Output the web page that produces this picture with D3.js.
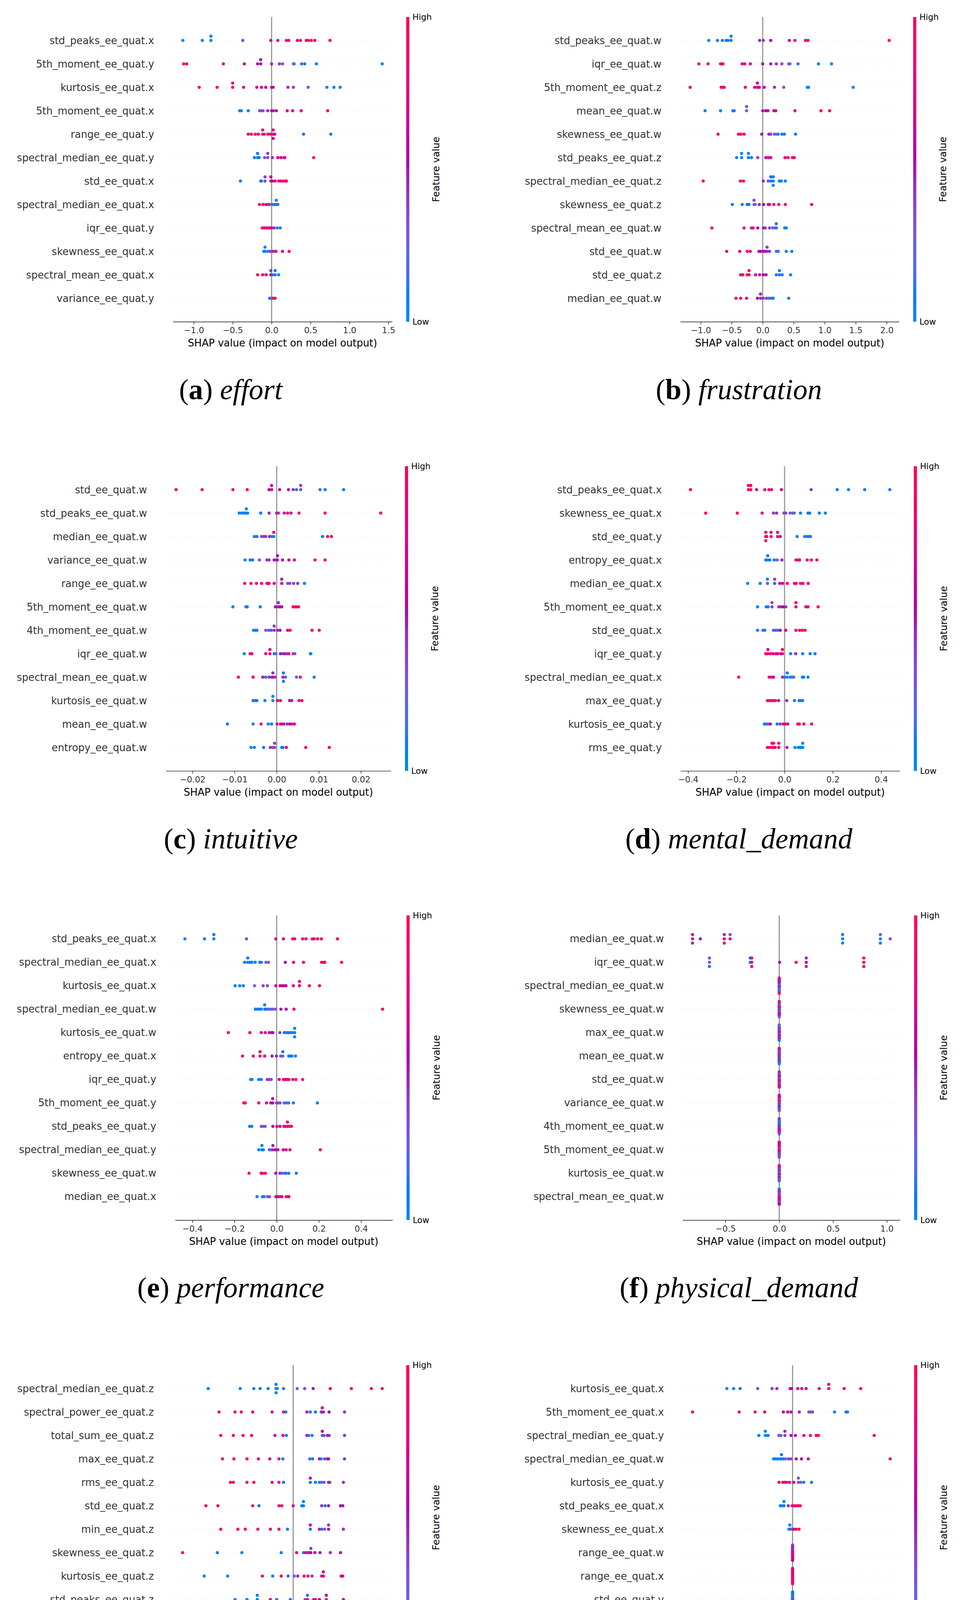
<!DOCTYPE html>
<html lang="en">
<head>
<meta charset="UTF-8">
<title>SHAP summary plots</title>
<script src="https://cdn.jsdelivr.net/npm/d3@7"></script>
<style>
  body { margin: 0; background: #fff; }
  svg { display: block; }
  .feat { font-family: "DejaVu Sans"; font-size: 25.7px; fill: #333; }
  .xlab { font-family: "DejaVu Sans"; font-size: 25.7px; fill: #000; }
  .cbtxt { font-family: "DejaVu Sans"; font-size: 21.5px; fill: #000; }
  .cblab { font-family: "DejaVu Sans"; font-size: 24.5px; fill: #000; }
  .axis path, .axis line { stroke: #333; stroke-width: 1.6; }
  .axis text { font-family: "DejaVu Sans"; font-size: 21.5px; fill: #333; }
  .caption { font-family: "Liberation Serif"; font-size: 74px; fill: #000; white-space: pre; }
</style>
</head>
<body>
<script>
// ---- data: [shap value, feature value (0 = low, 1 = high)] per dot ----
const effortFeatures = ["std_peaks_ee_quat.x","5th_moment_ee_quat.y","kurtosis_ee_quat.x","5th_moment_ee_quat.x","range_ee_quat.y","spectral_median_ee_quat.y","std_ee_quat.x","spectral_median_ee_quat.x","iqr_ee_quat.y","skewness_ee_quat.x","spectral_mean_ee_quat.x","variance_ee_quat.y"];
const effortShap = [
  [[-1.14,.02],[-0.89,.05],[-0.78,.05],[-0.78,.05],[-0.37,.35],[-0.01,.7],[0.08,.72],[0.19,.85],[0.22,.8],[0.33,.85],[0.37,.9],[0.445,.9],[0.47,.88],[0.51,.9],[0.555,.95],[0.75,.97]],
  [[-1.13,.97],[-1.09,.97],[-0.62,.85],[-0.35,.7],[-0.18,.6],[-0.14,.5],[-0.14,.55],[0.0,.45],[0.10,.4],[0.14,.35],[0.28,.3],[0.29,.25],[0.385,.12],[0.425,.1],[0.575,.05],[1.42,.02]],
  [[-0.93,.95],[-0.70,.92],[-0.50,.9],[-0.50,.9],[-0.36,.8],[-0.19,.72],[-0.13,.7],[-0.075,.65],[0.0,.55],[0.02,.6],[0.21,.45],[0.28,.4],[0.47,.25],[0.71,.05],[0.80,.05],[0.88,.03]],
  [[-0.41,.05],[-0.39,.05],[-0.30,.08],[-0.155,.3],[-0.13,.35],[-0.11,.3],[-0.05,.45],[0.0,.55],[0.02,.5],[0.06,.6],[0.20,.75],[0.27,.8],[0.38,.9],[0.72,.95]],
  [[-0.30,.95],[-0.26,.92],[-0.21,.95],[-0.17,.9],[-0.115,.85],[-0.115,.9],[-0.095,.8],[-0.05,.85],[-0.015,.8],[0.02,.7],[0.02,.72],[0.02,.65],[0.04,.75],[0.41,.1],[0.76,.05]],
  [[-0.22,.05],[-0.18,.05],[-0.18,.08],[-0.16,.1],[-0.09,.3],[-0.05,.35],[-0.05,.4],[0.01,.45],[0.08,.7],[0.12,.75],[0.16,.85],[0.17,.9],[0.54,.95]],
  [[-0.40,.05],[-0.14,.08],[-0.13,.1],[-0.085,.35],[-0.085,.4],[-0.01,.55],[-0.01,.6],[0.01,.65],[0.045,.75],[0.09,.85],[0.12,.9],[0.15,.9],[0.18,.95],[0.19,.95]],
  [[-0.155,.95],[-0.11,.9],[-0.07,.75],[-0.045,.5],[-0.025,.4],[0.01,.2],[0.035,.1],[0.06,.05],[0.06,.05],[0.08,.05]],
  [[-0.12,.95],[-0.095,.9],[-0.07,.9],[-0.05,.85],[-0.025,.8],[0.0,.7],[0.03,.45],[0.07,.15],[0.11,.05]],
  [[-0.10,.05],[-0.085,.05],[-0.085,.05],[-0.05,.2],[-0.025,.3],[0.0,.4],[0.02,.45],[0.055,.65],[0.14,.9],[0.225,.95]],
  [[-0.18,.95],[-0.115,.9],[-0.07,.8],[-0.01,.5],[-0.01,.45],[0.02,.15],[0.045,.1],[0.045,.1],[0.09,.05]],
  [[-0.025,.1],[0.0,.2],[0.02,.9],[0.045,.95]]
];
const effortTicks = [-1, -0.5, 0, 0.5, 1, 1.5];

const frustrationFeatures = ["std_peaks_ee_quat.w","iqr_ee_quat.w","5th_moment_ee_quat.z","mean_ee_quat.w","skewness_ee_quat.w","std_peaks_ee_quat.z","spectral_median_ee_quat.z","skewness_ee_quat.z","spectral_mean_ee_quat.w","std_ee_quat.w","std_ee_quat.z","median_ee_quat.w"];
const frustrationShap = [
  [[-0.87,.05],[-0.73,.05],[-0.65,.08],[-0.59,.05],[-0.56,.1],[-0.51,.05],[-0.51,.05],[-0.05,.45],[0.01,.4],[0.13,.6],[0.43,.75],[0.52,.85],[0.69,.9],[0.73,.92],[2.04,.97]],
  [[-1.03,.97],[-0.88,.95],[-0.68,.9],[-0.66,.88],[-0.64,.9],[-0.33,.75],[-0.29,.72],[-0.20,.7],[0.0,.6],[0.13,.5],[0.22,.4],[0.31,.35],[0.42,.3],[0.44,.25],[0.57,.12],[0.90,.05],[1.11,.03]],
  [[-1.17,.97],[-0.67,.92],[-0.64,.9],[-0.62,.92],[-0.28,.75],[-0.13,.7],[-0.085,.65],[-0.085,.6],[-0.055,.6],[0.025,.65],[0.19,.45],[0.34,.3],[0.72,.08],[0.74,.05],[1.46,.03]],
  [[-0.93,.05],[-0.68,.05],[-0.48,.08],[-0.46,.1],[-0.26,.3],[-0.26,.3],[0.0,.5],[0.05,.55],[0.085,.65],[0.18,.7],[0.21,.6],[0.52,.85],[0.94,.92],[1.08,.95]],
  [[-0.72,.95],[-0.39,.9],[-0.35,.92],[-0.30,.88],[-0.015,.5],[0.10,.45],[0.13,.4],[0.19,.3],[0.23,.15],[0.25,.2],[0.31,.1],[0.35,.1],[0.53,.05]],
  [[-0.42,.05],[-0.34,.05],[-0.34,.05],[-0.23,.08],[-0.23,.05],[-0.18,.1],[-0.08,.4],[0.05,.65],[0.09,.7],[0.13,.72],[0.36,.92],[0.41,.95],[0.48,.9],[0.51,.95]],
  [[-0.96,.97],[-0.36,.92],[-0.31,.9],[0.01,.45],[0.09,.35],[0.13,.1],[0.13,.1],[0.17,.05],[0.17,.08],[0.17,.05],[0.27,.08],[0.30,.05],[0.365,.05]],
  [[-0.49,.05],[-0.33,.05],[-0.25,.1],[-0.22,.08],[-0.14,.3],[-0.14,.35],[-0.12,.3],[-0.055,.45],[0.015,.55],[0.09,.7],[0.11,.75],[0.18,.8],[0.26,.88],[0.365,.92],[0.79,.95]],
  [[-0.82,.95],[-0.30,.85],[-0.18,.8],[-0.155,.75],[-0.08,.6],[0.015,.5],[0.04,.45],[0.11,.35],[0.16,.3],[0.20,.25],[0.22,.1],[0.22,.1],[0.355,.05],[0.38,.05]],
  [[-0.58,.95],[-0.37,.92],[-0.25,.88],[-0.20,.85],[-0.06,.6],[-0.035,.55],[0.01,.6],[0.045,.55],[0.07,.45],[0.07,.4],[0.11,.45],[0.22,.15],[0.25,.1],[0.38,.05],[0.47,.05]],
  [[-0.355,.95],[-0.34,.92],[-0.32,.95],[-0.25,.88],[-0.22,.9],[-0.22,.92],[-0.115,.7],[-0.05,.65],[0.01,.55],[0.055,.5],[0.22,.1],[0.27,.08],[0.27,.05],[0.315,.05],[0.45,.05]],
  [[-0.43,.95],[-0.355,.92],[-0.26,.85],[-0.085,.5],[-0.035,.45],[-0.035,.45],[0.01,.4],[0.06,.35],[0.10,.3],[0.14,.1],[0.17,.08],[0.42,.05]]
];
const frustrationTicks = [-1, -0.5, 0, 0.5, 1, 1.5, 2];

const intuitiveFeatures = ["std_ee_quat.w","std_peaks_ee_quat.w","median_ee_quat.w","variance_ee_quat.w","range_ee_quat.w","5th_moment_ee_quat.w","4th_moment_ee_quat.w","iqr_ee_quat.w","spectral_mean_ee_quat.w","kurtosis_ee_quat.w","mean_ee_quat.w","entropy_ee_quat.w"];
const intuitiveShap = [
  [[-0.0239,.97],[-0.0177,.95],[-0.0104,.75],[-0.0070,.92],[-0.0018,.55],[-0.0012,.7],[-0.0012,.65],[0.0007,.6],[0.0028,.5],[0.0039,.45],[0.0047,.1],[0.0057,.35],[0.0057,.4],[0.0103,.15],[0.0115,.08],[0.0159,.05]],
  [[-0.0089,.05],[-0.0083,.05],[-0.0079,.05],[-0.0074,.08],[-0.0072,.05],[-0.0072,.05],[-0.0069,.05],[-0.0038,.08],[-0.0018,.45],[0.0,.5],[0.0004,.45],[0.0018,.8],[0.0026,.75],[0.0034,.8],[0.0053,.9],[0.0115,.92],[0.0247,.97]],
  [[-0.0053,.05],[-0.0047,.1],[-0.0036,.3],[-0.0031,.4],[-0.0026,.45],[-0.0017,.75],[-0.0012,.05],[-0.0007,.05],[-0.0007,.95],[0.0109,.08],[0.0121,.92],[0.0130,.95]],
  [[-0.0075,.05],[-0.0063,.05],[-0.0057,.08],[-0.0041,.3],[-0.0023,.45],[-0.0018,.4],[-0.0006,.5],[0.0,.55],[0.0002,.45],[0.0002,.5],[0.0014,.7],[0.0029,.55],[0.0042,.85],[0.0091,.9],[0.0115,.95]],
  [[-0.0076,.95],[-0.0061,.95],[-0.0048,.92],[-0.0036,.9],[-0.0023,.8],[-0.0020,.85],[-0.0018,.88],[-0.0006,.75],[0.0012,.7],[0.0012,.5],[0.0026,.25],[0.0031,.4],[0.0040,.4],[0.0050,.45],[0.0066,.05]],
  [[-0.0104,.05],[-0.0073,.05],[-0.0070,.08],[-0.0039,.1],[-0.0003,.6],[0.0004,.5],[0.0004,.45],[0.0008,.6],[0.0012,.55],[0.0039,.9],[0.0043,.85],[0.0047,.9],[0.0052,.95]],
  [[-0.0055,.05],[-0.0050,.08],[-0.0047,.05],[-0.0026,.3],[-0.0019,.35],[-0.0013,.1],[-0.0006,.45],[-0.0006,.4],[0.0002,.45],[0.0008,.5],[0.0026,.6],[0.0032,.92],[0.0084,.95],[0.0101,.97]],
  [[-0.0077,.05],[-0.0063,.95],[-0.0059,.9],[-0.0026,.85],[-0.0016,.95],[-0.0016,.9],[-0.0006,.1],[-0.0002,.15],[0.0009,.5],[0.0015,.45],[0.0020,.5],[0.0024,.4],[0.0029,.9],[0.0039,.45],[0.0043,.35],[0.0080,.05],[0.0081,.05]],
  [[-0.0091,.95],[-0.0056,.75],[-0.0033,.7],[-0.0026,.08],[-0.0018,.45],[-0.0012,.4],[-0.0009,.5],[-0.0009,.45],[-0.0004,.4],[0.0015,.75],[0.0016,.05],[0.0016,.1],[0.0021,.2],[0.0047,.15],[0.0056,.92],[0.0089,.05]],
  [[-0.0056,.05],[-0.0052,.05],[-0.0047,.08],[-0.0028,.08],[-0.0009,.05],[-0.0009,.05],[0.0002,.72],[0.0009,.9],[0.0031,.55],[0.0036,.45],[0.0053,.9],[0.0060,.95]],
  [[-0.0117,.05],[-0.0056,.05],[-0.0037,.92],[-0.0020,.05],[-0.0012,.08],[0.0001,.45],[0.0009,.9],[0.0012,.92],[0.0017,.5],[0.0025,.45],[0.0031,.5],[0.0036,.72],[0.0042,.75]],
  [[-0.0061,.05],[-0.0053,.05],[-0.0031,.1],[-0.0015,.45],[-0.0009,.4],[-0.0005,.35],[-0.0005,.4],[0.0012,.05],[0.0015,.08],[0.0023,.9],[0.0069,.92],[0.0125,.97]]
];
const intuitiveTicks = [-0.02, -0.01, 0, 0.01, 0.02];

const mentalFeatures = ["std_peaks_ee_quat.x","skewness_ee_quat.x","std_ee_quat.y","entropy_ee_quat.x","median_ee_quat.x","5th_moment_ee_quat.x","std_ee_quat.x","iqr_ee_quat.y","spectral_median_ee_quat.x","max_ee_quat.y","kurtosis_ee_quat.y","rms_ee_quat.y"];
const mentalShap = [
  [[-0.39,.97],[-0.15,.95],[-0.15,.95],[-0.14,.95],[-0.14,.92],[-0.116,.9],[-0.082,.75],[-0.065,.8],[-0.054,.85],[-0.013,.7],[0.11,.4],[0.218,.05],[0.265,.05],[0.332,.08],[0.436,.05]],
  [[-0.327,.95],[-0.196,.95],[-0.093,.72],[-0.046,.4],[-0.033,.45],[-0.003,.35],[0.005,.4],[0.023,.2],[0.034,.25],[0.04,.3],[0.066,.08],[0.097,.1],[0.104,.08],[0.144,.05],[0.169,.05]],
  [[-0.078,.95],[-0.078,.92],[-0.078,.9],[-0.074,.85],[-0.056,.92],[-0.056,.88],[-0.029,.8],[-0.029,.85],[-0.018,.65],[0.052,.05],[0.083,.15],[0.093,.1],[0.102,.05],[0.107,.08]],
  [[-0.078,.05],[-0.070,.05],[-0.070,.08],[-0.061,.1],[-0.043,.1],[-0.031,.2],[-0.011,.45],[0.047,.9],[0.056,.8],[0.062,.75],[0.094,.8],[0.111,.92],[0.134,.9]],
  [[-0.153,.05],[-0.101,.08],[-0.071,.3],[-0.071,.05],[-0.041,.1],[-0.041,.4],[-0.020,.65],[-0.008,.7],[0.011,.9],[0.041,.85],[0.048,.9],[0.066,.85],[0.076,.9],[0.098,.92]],
  [[-0.112,.05],[-0.076,.08],[-0.068,.1],[-0.052,.4],[-0.052,.35],[-0.024,.45],[-0.014,.5],[-0.005,.55],[0.005,.45],[0.047,.7],[0.047,.95],[0.088,.8],[0.097,.75],[0.139,.95]],
  [[-0.112,.05],[-0.090,.2],[-0.082,.1],[-0.046,.35],[-0.036,.1],[-0.028,.15],[-0.018,.6],[0.005,.7],[0.047,.9],[0.062,.92],[0.073,.95],[0.085,.85]],
  [[-0.078,.95],[-0.069,.88],[-0.069,.72],[-0.059,.9],[-0.048,.8],[-0.036,.75],[-0.028,.72],[-0.015,.5],[-0.009,.92],[-0.009,.95],[0.025,.08],[0.045,.4],[0.047,.35],[0.075,.05],[0.106,.1],[0.126,.05]],
  [[-0.19,.95],[-0.064,.9],[-0.054,.75],[-0.046,.7],[-0.008,.9],[0.0,.1],[0.011,.05],[0.011,.08],[0.024,.05],[0.033,.1],[0.038,.2],[0.074,.05],[0.079,.08],[0.097,.05]],
  [[-0.071,.95],[-0.062,.92],[-0.054,.9],[-0.046,.95],[-0.038,.88],[-0.025,.8],[0.009,.45],[0.041,.05],[0.06,.25],[0.066,.1],[0.075,.05]],
  [[-0.084,.05],[-0.076,.08],[-0.069,.3],[-0.059,.5],[-0.031,.1],[-0.018,.4],[-0.005,.72],[0.003,.75],[0.013,.9],[0.055,.92],[0.061,.9],[0.080,.95],[0.112,.95]],
  [[-0.071,.92],[-0.062,.95],[-0.052,.95],[-0.052,.9],[-0.045,.92],[-0.045,.88],[-0.039,.9],[-0.024,.8],[-0.024,.85],[0.010,.45],[0.043,.05],[0.057,.1],[0.064,.08],[0.069,.05],[0.075,.05],[0.075,.05]]
];
const mentalTicks = [-0.4, -0.2, 0, 0.2, 0.4];

const performanceFeatures = ["std_peaks_ee_quat.x","spectral_median_ee_quat.x","kurtosis_ee_quat.x","spectral_median_ee_quat.w","kurtosis_ee_quat.w","entropy_ee_quat.x","iqr_ee_quat.y","5th_moment_ee_quat.y","std_peaks_ee_quat.y","spectral_median_ee_quat.y","skewness_ee_quat.w","median_ee_quat.x"];
const performanceShap = [
  [[-0.435,.03],[-0.342,.05],[-0.298,.05],[-0.298,.05],[-0.143,.35],[-0.004,.7],[0.032,.72],[0.076,.85],[0.085,.8],[0.123,.9],[0.139,.88],[0.169,.92],[0.178,.9],[0.194,.95],[0.212,.92],[0.288,.97]],
  [[-0.152,.05],[-0.137,.05],[-0.137,.08],[-0.127,.05],[-0.118,.08],[-0.102,.05],[-0.080,.08],[-0.073,.1],[-0.051,.2],[-0.039,.3],[0.041,.5],[0.080,.7],[0.127,.85],[0.213,.92],[0.222,.9],[0.228,.95],[0.308,.97]],
  [[-0.197,.05],[-0.175,.05],[-0.158,.08],[-0.105,.2],[-0.064,.4],[-0.044,.35],[-0.004,.65],[0.016,.6],[0.025,.7],[0.034,.65],[0.044,.6],[0.079,.85],[0.108,.8],[0.108,.95],[0.155,.92],[0.203,.95]],
  [[-0.101,.05],[-0.092,.05],[-0.082,.08],[-0.073,.05],[-0.057,.1],[-0.057,.05],[-0.048,.1],[-0.038,.25],[-0.029,.2],[-0.020,.35],[-0.007,.3],[0.020,.5],[0.045,.55],[0.082,.75],[0.502,.97]],
  [[-0.229,.95],[-0.127,.92],[-0.073,.75],[-0.054,.8],[-0.035,.6],[-0.026,.5],[-0.018,.55],[0.015,.4],[0.036,.1],[0.045,.15],[0.054,.08],[0.064,.1],[0.073,.05],[0.085,.05],[0.085,.05],[0.085,.05]],
  [[-0.162,.95],[-0.111,.92],[-0.079,.85],[-0.079,.95],[-0.057,.8],[-0.022,.5],[-0.001,.45],[0.019,.3],[0.029,.2],[0.029,.1],[0.057,.05],[0.064,.08],[0.072,.05],[0.089,.05]],
  [[-0.123,.05],[-0.117,.05],[-0.085,.08],[-0.073,.1],[-0.044,.45],[-0.035,.4],[-0.026,.35],[0.012,.7],[0.032,.75],[0.041,.8],[0.050,.85],[0.058,.9],[0.076,.9],[0.091,.95],[0.123,.95]],
  [[-0.156,.95],[-0.149,.92],[-0.085,.8],[-0.048,.75],[-0.028,.6],[-0.019,.55],[-0.019,.6],[-0.001,.35],[0.007,.4],[0.016,.35],[0.035,.25],[0.047,.1],[0.057,.15],[0.079,.05],[0.193,.05]],
  [[-0.128,.05],[-0.118,.05],[-0.073,.3],[-0.064,.35],[-0.054,.3],[-0.018,.65],[0.001,.75],[0.016,.8],[0.034,.85],[0.042,.9],[0.051,.95],[0.051,.92],[0.060,.9],[0.070,.95]],
  [[-0.085,.05],[-0.070,.05],[-0.070,.08],[-0.063,.05],[-0.035,.25],[-0.025,.3],[-0.018,.45],[-0.018,.5],[-0.006,.55],[0.006,.5],[0.031,.7],[0.045,.75],[0.063,.85],[0.207,.95]],
  [[-0.131,.95],[-0.074,.92],[-0.067,.9],[-0.054,.88],[-0.004,.55],[0.015,.4],[0.023,.35],[0.035,.2],[0.044,.1],[0.057,.1],[0.093,.05]],
  [[-0.093,.05],[-0.067,.08],[-0.060,.05],[-0.044,.3],[-0.034,.35],[-0.004,.7],[0.006,.65],[0.016,.75],[0.025,.72],[0.045,.92],[0.054,.95],[0.058,.9]]
];
const performanceTicks = [-0.4, -0.2, 0, 0.2, 0.4];

const physicalFeatures = ["median_ee_quat.w","iqr_ee_quat.w","spectral_median_ee_quat.w","skewness_ee_quat.w","max_ee_quat.w","mean_ee_quat.w","std_ee_quat.w","variance_ee_quat.w","4th_moment_ee_quat.w","5th_moment_ee_quat.w","kurtosis_ee_quat.w","spectral_mean_ee_quat.w"];
const physicalShap = [
  [[-0.806,.45],[-0.806,.95],[-0.806,.45],[-0.734,.5],[-0.511,.72],[-0.511,.45],[-0.511,.95],[-0.457,.95],[-0.457,.35],[0.589,.05],[0.589,.05],[0.589,.05],[0.94,.05],[0.94,.3],[0.94,.05],[1.031,.3]],
  [[-0.649,.3],[-0.649,.3],[-0.649,.05],[-0.27,.05],[-0.27,.08],[-0.256,.72],[-0.256,.72],[-0.256,.95],[0.003,.5],[0.157,.9],[0.251,.72],[0.251,.45],[0.251,.45],[0.786,.95],[0.786,.95],[0.786,.95]],
  [[0,.3],[0,.1],[0,.5],[0,.2],[0,.6],[0,.15],[0,.4],[0,.05],[0,.35],[0,.7],[0,.25],[0,.45],[0,.1],[0,.55],[0,.3],[0,.9],[0,.2],[0,.5],[0,.15],[0,.8],[0,.95]],
  [[0,.5],[0,.4],[0,.7],[0,.2],[0,.9],[0,.5],[0,.1],[0,.6],[0,.3],[0,.95],[0,.45],[0,.05],[0,.55],[0,.2],[0,.8],[0,.35],[0,.65],[0,.1],[0,.5],[0,.75],[0,.3]],
  [[0,.6],[0,.3],[0,.9],[0,.5],[0,.2],[0,.7],[0,.05],[0,.45],[0,.85],[0,.25],[0,.6],[0,.1],[0,.5],[0,.95],[0,.35],[0,.4],[0,.75],[0,.15],[0,.55],[0,.3],[0,.05]],
  [[0,.5],[0,.6],[0,.3],[0,.7],[0,.45],[0,.2],[0,.8],[0,.55],[0,.1],[0,.4],[0,.65],[0,.35],[0,.05],[0,.5],[0,.9],[0,.25],[0,.6],[0,.45],[0,.15],[0,.7],[0,.05]],
  [[0,.7],[0,.5],[0,.9],[0,.3],[0,.6],[0,.45],[0,.8],[0,.2],[0,.95],[0,.55],[0,.4],[0,.65],[0,.1],[0,.5],[0,.85],[0,.35],[0,.6],[0,.25],[0,.9],[0,.45],[0,.7]],
  [[0,.6],[0,.9],[0,.4],[0,.2],[0,.75],[0,.55],[0,.1],[0,.85],[0,.35],[0,.95],[0,.5],[0,.25],[0,.65],[0,.4],[0,.05],[0,.8],[0,.3],[0,.55],[0,.45],[0,.7],[0,.2]],
  [[0,.5],[0,.3],[0,.7],[0,.6],[0,.2],[0,.45],[0,.9],[0,.1],[0,.55],[0,.35],[0,.75],[0,.05],[0,.5],[0,.4],[0,.65],[0,.25],[0,.8],[0,.15],[0,.6],[0,.45],[0,.3]],
  [[0,.7],[0,.5],[0,.4],[0,.9],[0,.6],[0,.3],[0,.75],[0,.45],[0,.55],[0,.85],[0,.2],[0,.65],[0,.35],[0,.95],[0,.5],[0,.8],[0,.25],[0,.6],[0,.4],[0,.7],[0,.3]],
  [[0,.4],[0,.1],[0,.8],[0,.3],[0,.6],[0,.05],[0,.9],[0,.5],[0,.2],[0,.7],[0,.35],[0,.15],[0,.55],[0,.95],[0,.25],[0,.05],[0,.45],[0,.6],[0,.1],[0,.85],[0,.3]],
  [[0,.55],[0,.3],[0,.75],[0,.5],[0,.9],[0,.2],[0,.6],[0,.45],[0,.85],[0,.35],[0,.7],[0,.15],[0,.5],[0,.95],[0,.4],[0,.65],[0,.25],[0,.8],[0,.55],[0,.1],[0,.6]]
];
const physicalTicks = [-0.5, 0, 0.5, 1];

const realisticFeatures = ["spectral_median_ee_quat.z","spectral_power_ee_quat.z","total_sum_ee_quat.z","max_ee_quat.z","rms_ee_quat.z","std_ee_quat.z","min_ee_quat.z","skewness_ee_quat.z","kurtosis_ee_quat.z","std_peaks_ee_quat.z","iqr_ee_quat.z","spectral_mean_ee_quat.z"];
const realisticShap = [
  [[-0.149,.05],[-0.093,.05],[-0.069,.05],[-0.058,.08],[-0.044,.1],[-0.030,.05],[-0.030,.08],[-0.030,.05],[-0.028,.05],[-0.017,.1],[0.007,.3],[0.020,.4],[0.035,.5],[0.065,.92],[0.102,.95],[0.137,.95],[0.156,.97]],
  [[-0.130,.95],[-0.102,.92],[-0.091,.9],[-0.071,.92],[-0.037,.75],[-0.017,.88],[-0.013,.08],[0.024,.72],[0.030,.1],[0.039,.05],[0.049,.25],[0.051,.65],[0.051,.7],[0.053,.45],[0.063,.5],[0.090,.45]],
  [[-0.127,.95],[-0.105,.92],[-0.088,.9],[-0.073,.92],[-0.032,.75],[-0.018,.88],[-0.012,.08],[0.024,.72],[0.027,.1],[0.033,.05],[0.051,.1],[0.051,.65],[0.054,.35],[0.060,.5],[0.063,.45],[0.090,.45]],
  [[-0.124,.95],[-0.104,.92],[-0.081,.9],[-0.061,.92],[-0.041,.75],[-0.025,.88],[-0.018,.08],[0.029,.05],[0.034,.1],[0.046,.7],[0.049,.1],[0.055,.35],[0.060,.5],[0.062,.55],[0.090,.45]],
  [[-0.110,.95],[-0.105,.92],[-0.081,.9],[-0.069,.92],[-0.037,.75],[-0.025,.88],[-0.017,.08],[0.030,.08],[0.030,.7],[0.039,.05],[0.046,.1],[0.049,.15],[0.054,.35],[0.062,.5],[0.064,.45],[0.088,.45]],
  [[-0.153,.95],[-0.132,.92],[-0.071,.9],[-0.060,.08],[-0.025,.88],[-0.020,.92],[0.0,.75],[0.015,.05],[0.018,.1],[0.018,.05],[0.050,.45],[0.056,.1],[0.062,.5],[0.083,.55],[0.087,.5]],
  [[-0.127,.95],[-0.097,.92],[-0.084,.9],[-0.062,.92],[-0.040,.8],[-0.025,.88],[-0.010,.08],[0.030,.08],[0.030,.75],[0.046,.7],[0.050,.1],[0.055,.3],[0.062,.55],[0.062,.4],[0.088,.45]],
  [[-0.194,.97],[-0.133,.05],[-0.090,.05],[-0.021,.08],[0.006,.92],[0.018,.1],[0.022,.7],[0.026,.35],[0.028,.9],[0.031,.5],[0.031,.4],[0.038,.65],[0.047,.5],[0.065,.45],[0.083,.6]],
  [[-0.156,.05],[-0.115,.05],[-0.054,.92],[-0.036,.08],[-0.021,.9],[-0.009,.1],[0.002,.3],[0.008,.45],[0.019,.9],[0.026,.92],[0.033,.4],[0.050,.7],[0.053,.75],[0.053,.72],[0.084,.7],[0.087,.72]],
  [[-0.102,.05],[-0.081,.05],[-0.063,.08],[-0.063,.05],[-0.040,.92],[-0.029,.08],[-0.005,.1],[0.021,.35],[0.025,.92],[0.025,.1],[0.036,.88],[0.039,.85],[0.046,.6],[0.058,.92],[0.058,.5],[0.088,.5]],
  [[-0.103,.05],[-0.100,.05],[-0.087,.08],[-0.033,.4],[-0.030,.35],[0.015,.92],[0.024,.75],[0.026,.72],[0.032,.75],[0.032,.7],[0.037,.8],[0.046,.92],[0.051,.7],[0.074,.95]],
  [[-0.087,.05],[-0.072,.05],[-0.054,.08],[-0.049,.3],[-0.027,.45],[-0.005,.3],[0.002,.92],[0.006,.9],[0.006,.7],[0.023,.72],[0.025,.7],[0.030,.75],[0.037,.5],[0.139,.95]]
];
const realisticTicks = [-0.2, -0.15, -0.1, -0.05, 0, 0.05, 0.1, 0.15];

const responsivenessFeatures = ["kurtosis_ee_quat.x","5th_moment_ee_quat.x","spectral_median_ee_quat.y","spectral_median_ee_quat.w","kurtosis_ee_quat.y","std_peaks_ee_quat.x","skewness_ee_quat.x","range_ee_quat.w","range_ee_quat.x","std_ee_quat.y","median_ee_quat.y","mean_ee_quat.y"];
const responsivenessShap = [
  [[-0.754,.03],[-0.676,.05],[-0.602,.05],[-0.401,.3],[-0.236,.4],[-0.180,.45],[-0.028,.6],[-0.011,.65],[0.060,.7],[0.106,.72],[0.155,.75],[0.306,.9],[0.415,.92],[0.415,.85],[0.592,.95],[0.782,.97]],
  [[-1.148,.97],[-0.613,.95],[-0.430,.92],[-0.320,.8],[-0.106,.6],[-0.056,.55],[-0.018,.65],[0.077,.45],[0.187,.3],[0.208,.35],[0.229,.3],[0.482,.05],[0.613,.05],[0.630,.08]],
  [[-0.387,.05],[-0.313,.05],[-0.313,.05],[-0.282,.08],[-0.158,.2],[-0.134,.25],[-0.088,.4],[-0.088,.45],[-0.018,.55],[0.032,.6],[0.130,.75],[0.204,.8],[0.271,.9],[0.296,.85],[0.937,.97]],
  [[-0.218,.05],[-0.197,.05],[-0.173,.05],[-0.144,.15],[-0.127,.05],[-0.127,.05],[-0.106,.1],[-0.081,.2],[-0.046,.4],[-0.018,.35],[0.042,.5],[0.102,.6],[0.180,.72],[1.120,.97]],
  [[-0.155,.95],[-0.113,.92],[-0.092,.9],[-0.070,.88],[-0.035,.75],[0.014,.7],[0.067,.35],[0.067,.3],[0.092,.25],[0.127,.1],[0.218,.05]],
  [[-0.141,.05],[-0.116,.05],[-0.099,.05],[-0.099,.05],[-0.049,.45],[-0.004,.9],[0.018,.92],[0.042,.95],[0.067,.9],[0.088,.95]],
  [[-0.042,.1],[-0.032,.05],[-0.032,.05],[-0.011,.35],[0.014,.6],[0.039,.9],[0.074,.95]],
  [[0,.6],[0,.5],[0,.9],[0,.45],[0,.75],[0,.55],[0,.85],[0,.4],[0,.95],[0,.5],[0,.7],[0,.35],[0,.8],[0,.6],[0,.9],[0,.45],[0,.65],[0,.5],[0,.75],[0,.4],[0,.55]],
  [[0,.9],[0,.85],[0,.95],[0,.8],[0,.9],[0,.75],[0,.95],[0,.85],[0,.7],[0,.9],[0,.8],[0,.95],[0,.75],[0,.85],[0,.9],[0,.65],[0,.95],[0,.8],[0,.85],[0,.7],[0,.9]],
  [[0,.5],[0,.1],[0,.9],[0,.05],[0,.6],[0,.15],[0,.8],[0,.05],[0,.95],[0,.3],[0,.5],[0,.1],[0,.7],[0,.2],[0,.9],[0,.05],[0,.4],[0,.1],[0,.6],[0,.05],[0,.85]],
  [[0,.6],[0,.4],[0,.9],[0,.3],[0,.75],[0,.5],[0,.1],[0,.85],[0,.35],[0,.95],[0,.55],[0,.2],[0,.7],[0,.45],[0,.05],[0,.8],[0,.3],[0,.6],[0,.5],[0,.15],[0,.9]],
  [[0,.55],[0,.2],[0,.85],[0,.4],[0,.7],[0,.1],[0,.95],[0,.5],[0,.3],[0,.75],[0,.6],[0,.05],[0,.9],[0,.45],[0,.25],[0,.8],[0,.35],[0,.65],[0,.15],[0,.5],[0,.4]]
];
const responsivenessTicks = [-1, -0.5, 0, 0.5, 1];

const temporalFeatures = ["mean_ee_quat.y","mean_ee_quat.z","entropy_ee_quat.z","kurtosis_ee_quat.y","median_ee_quat.y","skewness_ee_quat.z","std_peaks_ee_quat.y","std_peaks_ee_quat.z","5th_moment_ee_quat.z","5th_moment_ee_quat.y","spectral_median_ee_quat.z","min_ee_quat.y"];
const temporalShap = [
  [[-1.435,.03],[-0.91,.05],[-0.82,.05],[-0.78,.05],[-0.33,.3],[-0.295,.35],[-0.21,.4],[-0.10,.5],[0.105,.65],[0.225,.72],[0.295,.7],[0.37,.75],[0.51,.85],[0.62,.8],[0.935,.95],[1.815,.97]],
  [[-1.075,.97],[-0.90,.95],[-0.605,.92],[-0.55,.9],[-0.485,.85],[-0.295,.72],[-0.265,.7],[-0.115,.65],[0.04,.5],[0.125,.45],[0.32,.3],[0.545,.08],[0.645,.05],[0.72,.08],[0.76,.05],[1.115,.03]],
  [[-0.725,.05],[-0.465,.05],[-0.425,.08],[-0.34,.05],[-0.34,.05],[-0.215,.2],[-0.165,.25],[-0.14,.3],[-0.025,.45],[0.02,.5],[0.09,.65],[0.125,.6],[0.175,.55],[0.745,.92],[0.79,.9],[0.885,.95]],
  [[-0.595,.95],[-0.45,.92],[-0.385,.9],[-0.355,.92],[-0.295,.85],[-0.26,.88],[-0.125,.75],[-0.03,.7],[0.08,.5],[0.28,.35],[0.28,.3],[0.30,.35],[0.375,.2],[0.52,.1],[0.88,.05]],
  [[-0.69,.05],[-0.535,.05],[-0.29,.3],[-0.255,.35],[-0.075,.55],[-0.025,.6],[0.04,.65],[0.095,.7],[0.125,.72],[0.125,.72],[0.16,.75],[0.405,.92],[0.545,.9],[0.58,.95]],
  [[-0.58,.05],[-0.385,.08],[-0.30,.1],[-0.255,.1],[-0.175,.25],[-0.145,.3],[-0.145,.3],[-0.065,.45],[0.01,.5],[0.09,.65],[0.12,.6],[0.20,.72],[0.295,.75],[0.415,.9],[0.91,.95]],
  [[-0.585,.05],[-0.535,.08],[-0.33,.3],[-0.275,.35],[-0.225,.4],[-0.08,.65],[0.005,.7],[0.085,.72],[0.15,.85],[0.20,.9],[0.235,.92],[0.235,.95],[0.265,.9],[0.295,.92],[0.33,.95]],
  [[-0.445,.95],[-0.42,.92],[-0.36,.9],[-0.305,.88],[-0.12,.7],[-0.09,.65],[-0.06,.72],[-0.03,.55],[0.075,.4],[0.15,.1],[0.20,.05],[0.20,.05],[0.295,.08],[0.295,.05],[0.37,.05]],
  [[-0.445,.95],[-0.26,.92],[-0.24,.9],[-0.11,.72],[-0.055,.65],[-0.025,.6],[-0.025,.7],[0.005,.5],[0.065,.35],[0.125,.3],[0.27,.08],[0.28,.05],[0.545,.05]],
  [[-0.52,.05],[-0.21,.08],[-0.155,.1],[-0.105,.25],[-0.045,.45],[0.01,.4],[0.04,.55],[0.04,.5],[0.065,.6],[0.125,.72],[0.22,.9],[0.39,.92],[0.41,.95]],
  [[-0.325,.95],[-0.13,.9],[-0.105,.85],[-0.01,.5],[0.03,.3],[0.055,.05],[0.055,.08],[0.055,.05],[0.085,.1],[0.12,.05]],
  [[-0.105,.05],[-0.075,.05],[-0.075,.08],[-0.045,.35],[-0.015,.45],[0.015,.9],[0.045,.92],[0.045,.95],[0.07,.9],[0.095,.95]]
];
const temporalTicks = [-1.5, -1, -0.5, 0, 0.5, 1, 1.5];

const usabilityFeatures = ["spectral_power_ee_quat.x","total_sum_ee_quat.x","rms_ee_quat.x","max_ee_quat.x","entropy_ee_quat.x","min_ee_quat.x","range_ee_quat.x","std_peaks_ee_quat.x","variance_ee_quat.x","4th_moment_ee_quat.x","median_ee_quat.x","5th_moment_ee_quat.x"];
const usabilityShap = [
  [[-58.0,.95],[-54.8,.92],[-54.8,.95],[-43.9,.95],[-34.7,.92],[-26.4,.85],[-21.7,.92],[4.8,.5],[9.5,.5],[11.1,.45],[11.1,.5],[12.7,.45],[25.8,.3],[30.3,.3],[40.1,.08],[47.1,.05],[113.4,.03]],
  [[-58.0,.95],[-55.5,.92],[-55.5,.95],[-43.9,.95],[-34.7,.92],[-26.4,.85],[-21.7,.92],[4.8,.5],[9.5,.5],[11.1,.45],[11.1,.5],[12.7,.45],[25.8,.3],[30.3,.3],[40.1,.08],[47.1,.05],[113.4,.03]],
  [[-98.4,.03],[-43.6,.05],[-34.4,.08],[-26.1,.3],[-21.0,.3],[-10.2,.5],[-10.2,.45],[-7.5,.5],[-4.5,.5],[20.4,.9],[21.5,.92],[29.0,.92],[38.2,.92],[47.8,.95],[47.8,.95],[50.6,.95]],
  [[-98.4,.03],[-43.6,.05],[-34.4,.08],[-26.1,.3],[-21.0,.3],[-10.2,.5],[-10.2,.45],[-7.5,.5],[-4.5,.5],[20.4,.92],[21.5,.9],[29.0,.92],[38.2,.92],[47.8,.95],[47.8,.95],[50.6,.95]],
  [[-29.6,.05],[-26.1,.05],[-23.9,.05],[-22.0,.08],[-20.1,.05],[-17.8,.08],[-10.5,.25],[-10.5,.3],[-7.0,.35],[0.0,.5],[6.7,.55],[18.2,.8],[25.2,.92],[25.2,.9],[36.0,.92],[53.5,.95]],
  [[-51.0,.05],[-22.6,.05],[-17.8,.08],[-13.7,.3],[-10.5,.35],[-5.4,.45],[-5.4,.5],[-2.5,.5],[10.5,.85],[15.3,.9],[20.1,.92],[24.8,.95],[24.8,.92],[26.4,.95]],
  [[-32.8,.05],[-31.5,.05],[-8.6,.5],[-6.4,.55],[-3.8,.5],[1.9,.72],[1.9,.8],[1.9,.75],[3.8,.85],[7.6,.9],[12.7,.92],[14.6,.95],[16.6,.92]],
  [[-17.5,.05],[-14.0,.05],[-11.5,.05],[-11.5,.08],[-5.7,.45],[-0.3,.8],[1.9,.9],[4.5,.92],[6.7,.9],[9.2,.95],[11.1,.92]],
  [[-8.9,.05],[-7.3,.05],[-5.4,.08],[-3.5,.1],[-0.6,.4],[-0.6,.5],[-0.6,.45],[1.3,.5],[3.2,.55],[7.0,.72],[12.1,.92],[14.0,.95]],
  [[-14.0,.95],[-11.1,.92],[-6.1,.7],[-1.9,.5],[-1.9,.45],[0.3,.45],[3.8,.1],[5.7,.05],[7.0,.05],[7.0,.05],[7.0,.05]],
  [[-5.7,.95],[-3.8,.92],[-1.9,.75],[0.0,.5],[1.9,.3],[3.8,.1],[5.7,.05],[8.0,.05]],
  [[-5.7,.05],[-3.8,.1],[-1.9,.3],[0.0,.5],[1.9,.72],[3.8,.85],[5.7,.92],[9.9,.95]]
];
const usabilityTicks = [-100, -50, 0, 50, 100];

const panels = [
  {key: "a", name: "effort", features: effortFeatures, shap: effortShap, ticks: effortTicks, fmt: ".1f"},
  {key: "b", name: "frustration", features: frustrationFeatures, shap: frustrationShap, ticks: frustrationTicks, fmt: ".1f"},
  {key: "c", name: "intuitive", features: intuitiveFeatures, shap: intuitiveShap, ticks: intuitiveTicks, fmt: ".2f"},
  {key: "d", name: "mental_demand", features: mentalFeatures, shap: mentalShap, ticks: mentalTicks, fmt: ".1f"},
  {key: "e", name: "performance", features: performanceFeatures, shap: performanceShap, ticks: performanceTicks, fmt: ".1f"},
  {key: "f", name: "physical_demand", features: physicalFeatures, shap: physicalShap, ticks: physicalTicks, fmt: ".1f"},
  {key: "g", name: "realistic", features: realisticFeatures, shap: realisticShap, ticks: realisticTicks, fmt: ".2f"},
  {key: "h", name: "responsiveness", features: responsivenessFeatures, shap: responsivenessShap, ticks: responsivenessTicks, fmt: ".1f"},
  {key: "i", name: "temporal_demand", features: temporalFeatures, shap: temporalShap, ticks: temporalTicks, fmt: ".1f"},
  {key: "j", name: "usability", features: usabilityFeatures, shap: usabilityShap, ticks: usabilityTicks, fmt: "d"}
];

// ---- layout (pixel positions inside each panel strip) ----
const colX = [0, 1233];
const rowY = [0, 1139, 2278, 3417, 4555, 5694];
const captionX = [591, 659];
const boxes = [
  {axL: 442.7, axR: 1004.2, top: 43.6}, {axL: 508.8, axR: 1069.4, top: 43.6},
  {axL: 424.6, axR: 1001.0, top: 54.5}, {axL: 509.6, axR: 1071.0, top: 54.5},
  {axL: 448.2, axR: 1005.0, top: 65.4}, {axL: 515.1, axR: 1071.8, top: 65.4},
  {axL: 441.9, axR: 1004.2, top: 77.8}, {axL: 515.1, axR: 1071.8, top: 77.8},
  {axL: 441.9, axR: 1004.2, top: 90.8}, {axL: 492.3, axR: 1067.9, top: 90.8}
];
const plotH = 780;

// shap red_blue colormap (LCh blend with darker middle)
function shapColor(t) {
  const h = 266.93 + t * (380.32 - 266.93);
  const c = 70 + 20 * t;
  const l = t < 0.5 ? 54 - 28 * t : 40 + 28 * (t - 0.5);
  return d3.hcl(h, c, l).formatHex();
}

// same layering as shap's beeswarm: 100 bins, alternate up/down
function swarm(xs) {
  const lo = d3.min(xs), hi = d3.max(xs);
  const quant = xs.map(v => Math.round(100 * (v - lo) / (hi - lo + 1e-8)));
  const order = d3.range(xs.length).sort((a, b) => quant[a] - quant[b] || a - b);
  const ys = xs.map(() => 0);
  let layer = 0, last = -1;
  order.forEach(i => {
    if (quant[i] !== last) layer = 0;
    ys[i] = Math.ceil(layer / 2) * ((layer % 2) * 2 - 1);
    layer++;
    last = quant[i];
  });
  const m = d3.max(ys, v => v + 1);
  return ys.map(v => v * 0.9 * 0.4 / m);
}

// one svg per row of panels
const strips = d3.range(5).map(r => {
  const s = d3.select("body").append("svg")
    .attr("width", 2466).attr("height", rowY[r + 1] - rowY[r]);
  s.append("rect").attr("width", 2466).attr("height", rowY[r + 1] - rowY[r]).attr("fill", "#fff");
  const grad = s.append("defs").append("linearGradient")
    .attr("id", "cbar" + r).attr("x1", 0).attr("y1", 1).attr("x2", 0).attr("y2", 0);
  d3.range(0, 1.0001, 0.05).forEach(t => {
    grad.append("stop").attr("offset", t).attr("stop-color", shapColor(t));
  });
  return s;
});

panels.forEach((p, k) => {
  const b = boxes[k];
  const col = k % 2, r = Math.floor(k / 2);
  const g = strips[r].append("g").attr("transform", `translate(${colX[col]},0)`);
  const bottom = b.top + plotH;
  const n = p.features.length;

  const all = p.shap.flat().map(d => d[0]);
  const lo = d3.min(all), hi = d3.max(all), pad = (hi - lo) * 0.05;
  const x = d3.scaleLinear().domain([lo - pad, hi + pad]).range([b.axL, b.axR]);
  const y = d3.scaleLinear().domain([-1, n]).range([bottom, b.top]);

  // dotted row guides + feature names
  p.features.forEach((f, i) => {
    const pos = n - 1 - i;
    g.append("line")
      .attr("x1", b.axL).attr("x2", b.axR)
      .attr("y1", y(pos)).attr("y2", y(pos))
      .attr("stroke", "#ccc").attr("stroke-width", 1).attr("stroke-dasharray", "1,5");
    g.append("text").attr("class", "feat")
      .attr("x", b.axL - 48).attr("y", y(pos))
      .attr("text-anchor", "end").attr("dominant-baseline", "central")
      .text(f);
  });

  // zero line
  g.append("line")
    .attr("x1", x(0)).attr("x2", x(0)).attr("y1", b.top).attr("y2", bottom)
    .attr("stroke", "#999").attr("stroke-width", 3);

  // dots
  p.shap.forEach((row, i) => {
    const pos = n - 1 - i;
    const offs = swarm(row.map(d => d[0]));
    g.append("g").selectAll("circle")
      .data(row)
      .join("circle")
      .attr("cx", d => x(d[0]))
      .attr("cy", (d, j) => y(pos + offs[j]))
      .attr("r", 4)
      .attr("fill", d => shapColor(d[1]));
  });

  // x axis
  g.append("g").attr("class", "axis")
    .attr("transform", `translate(0,${bottom})`)
    .call(d3.axisBottom(x).tickValues(p.ticks).tickFormat(d3.format(p.fmt))
      .tickSize(7).tickSizeOuter(0).tickPadding(7));

  g.append("text").attr("class", "xlab")
    .attr("x", (b.axL + b.axR) / 2).attr("y", bottom + 54.5)
    .attr("text-anchor", "middle").attr("dominant-baseline", "central")
    .text("SHAP value (impact on model output)");

  // colour bar
  const cbx = b.axR + 36;
  g.append("rect").attr("x", cbx).attr("y", b.top).attr("width", 8).attr("height", plotH)
    .attr("fill", `url(#cbar${r})`);
  g.append("text").attr("class", "cbtxt").attr("x", cbx + 16).attr("y", b.top)
    .attr("dominant-baseline", "central").text("High");
  g.append("text").attr("class", "cbtxt").attr("x", cbx + 16).attr("y", bottom)
    .attr("dominant-baseline", "central").text("Low");
  g.append("text").attr("class", "cblab")
    .attr("transform", `translate(${cbx + 76},${(b.top + bottom) / 2}) rotate(-90)`)
    .attr("text-anchor", "middle").attr("dominant-baseline", "central")
    .text("Feature value");

  // sub-caption
  const cap = g.append("text").attr("class", "caption")
    .attr("x", captionX[col]).attr("y", bottom + 198).attr("text-anchor", "middle");
  cap.append("tspan").text("(");
  cap.append("tspan").attr("font-weight", "bold").text(p.key);
  cap.append("tspan").text(") ");
  cap.append("tspan").attr("font-style", "italic").text(p.name);
});
</script>
</body>
</html>
